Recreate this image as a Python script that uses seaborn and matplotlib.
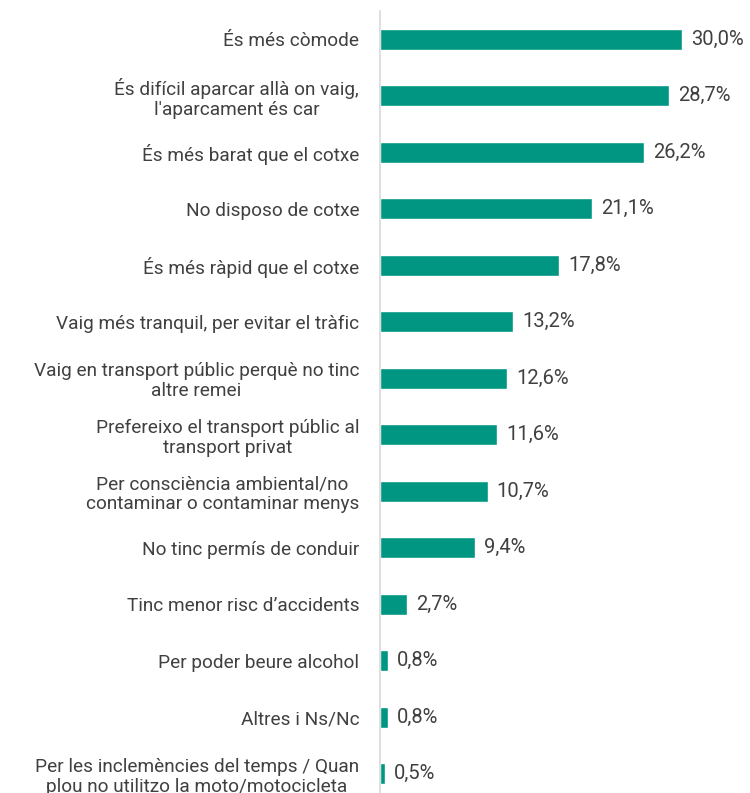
import pandas as pd
import seaborn as sns
import numpy as np
import matplotlib.pyplot as plt

labels = [
    "És més còmode",
    "És difícil aparcar allà on vaig,\nl'aparcament és car",
    "És més barat que el cotxe",
    "No disposo de cotxe",
    "És més ràpid que el cotxe",
    "Vaig més tranquil, per evitar el tràfic",
    "Vaig en transport públic perquè no tinc\naltre remei",
    "Prefereixo el transport públic al\ntransport privat",
    "Per consciència ambiental/no\ncontaminar o contaminar menys",
    "No tinc permís de conduir",
    "Tinc menor risc d\u2019accidents",
    "Per poder beure alcohol",
    "Altres i Ns/Nc",
    "Per les inclemències del temps / Quan\nplou no utilitzo la moto/motocicleta",
]
values = [30.0, 28.7, 26.2, 21.1, 17.8, 13.2, 12.6, 11.6, 10.7, 9.4, 2.7, 0.8, 0.8, 0.5]

df = pd.DataFrame({'motiu': labels, 'pct': values})

sns.set_theme(style="white")
plt.rcParams['font.family'] = ['Roboto', 'DejaVu Sans']

fig = plt.figure(figsize=(7.5, 7.93), dpi=100)
ax = fig.add_axes([380/750, -0.0114, 370/750, 0.9975])
sns.barplot(data=df, x='pct', y='motiu', color='#009682', width=0.37, ax=ax, saturation=1)

ax.set_xlim(0, 36.75)
ax.set_ylim(13.5, -0.5)
ax.set_xlabel('')
ax.set_ylabel('')
ax.set_xticks([])
for s in ['top', 'right', 'bottom']:
    ax.spines[s].set_visible(False)
ax.spines['left'].set_color('#d9d9d9')
ax.spines['left'].set_linewidth(1.2)
ax.tick_params(axis='y', length=0, pad=15, labelsize=13.7, labelcolor='#404040')
for t in ax.get_yticklabels():
    t.set_horizontalalignment('right')
    t.set_multialignment('center')
    t.set_linespacing(1.15)

for i, v in enumerate(values):
    ax.text(v + 0.9, i, f"{v:.1f}%".replace('.', ','), va='center', ha='left',
            fontsize=14.5, color='#404040')

fig.savefig('out.png', dpi=100)
